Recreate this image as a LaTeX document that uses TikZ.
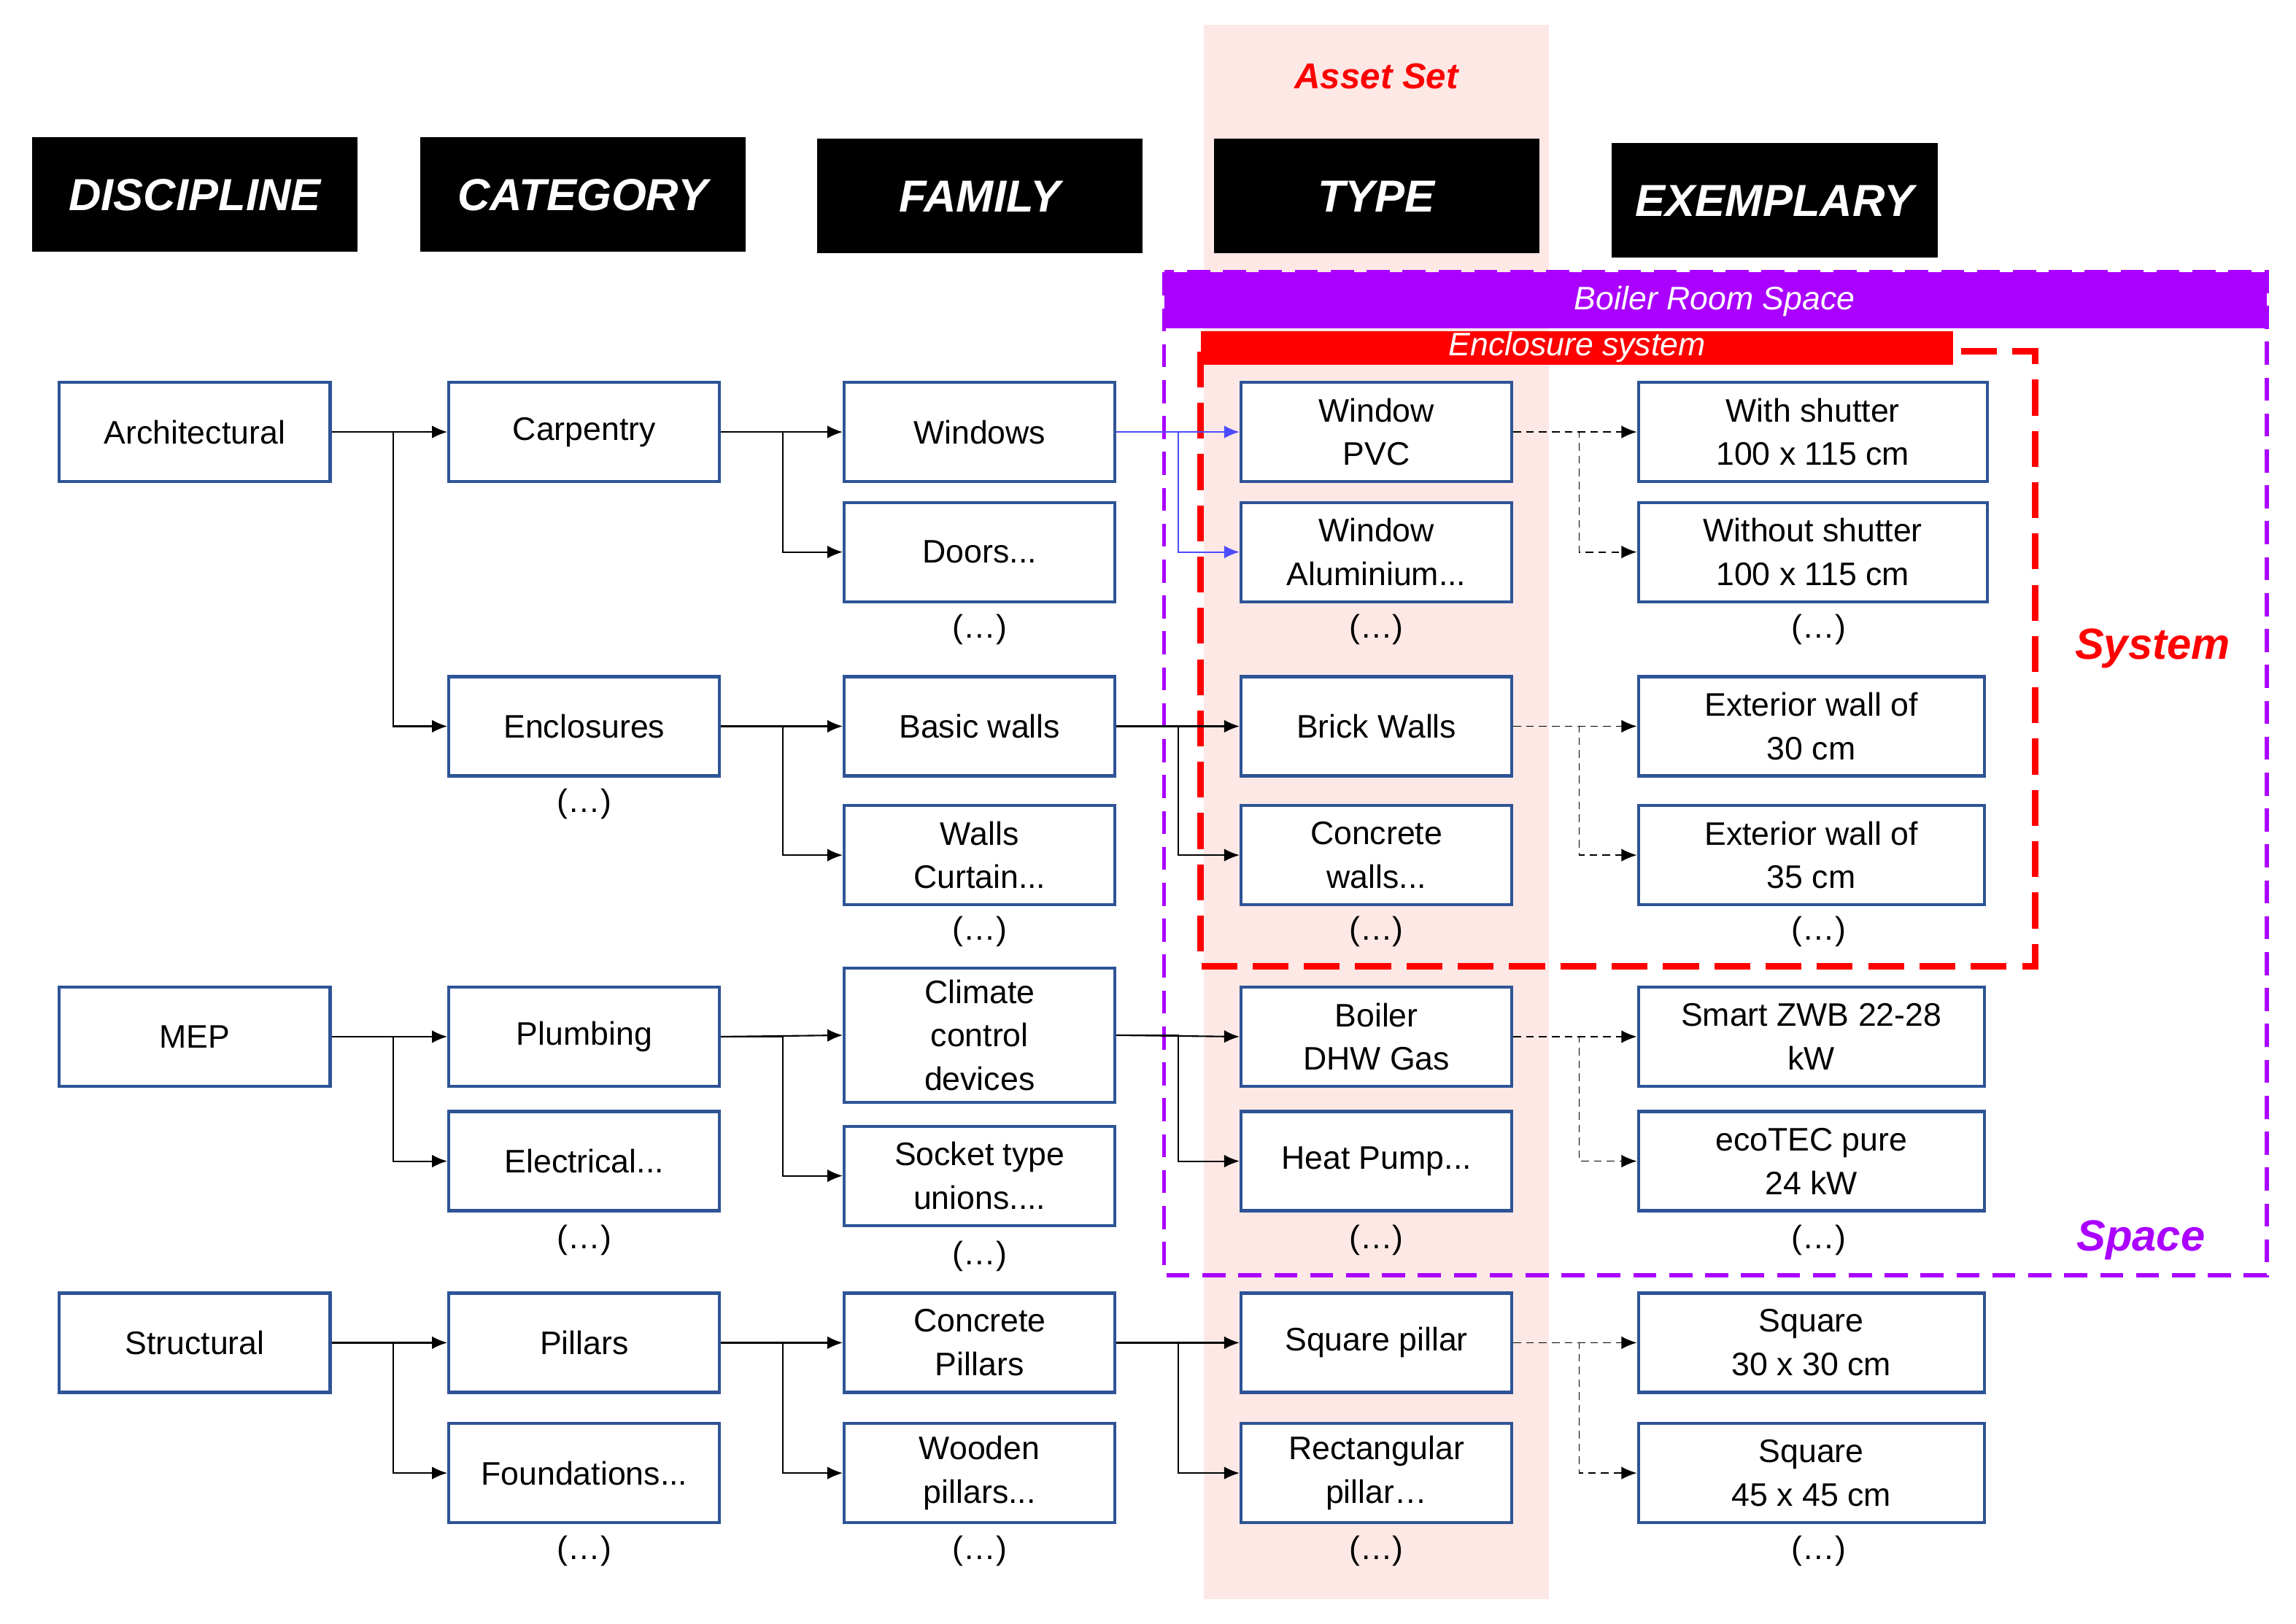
\documentclass[tikz,border=0pt]{standalone}
\usepackage{fontspec}
\setmainfont{Liberation Sans}
\usetikzlibrary{arrows.meta}
\definecolor{boxblue}{RGB}{46,84,150}
\definecolor{bandpink}{RGB}{253,232,230}
\definecolor{spaceviolet}{RGB}{170,0,255}
\definecolor{sysred}{RGB}{255,0,0}
\newcommand*{\boxtext}{\fontsize{12.7}{17}\selectfont}
\tikzset{
  box/.style={draw=boxblue, line width=1.2pt, fill=white, align=center,
    minimum width=3.71cm, minimum height=1.36cm, inner sep=1pt, font=\boxtext},
  wbox/.style={box, minimum width=4.78cm},
  head/.style={fill=black, text=white, minimum width=4.46cm, minimum height=1.57cm,
    font=\fontsize{17.5}{20}\selectfont\bfseries\itshape},
  more/.style={font=\boxtext},
  link/.style={-{Latex[length=6pt,width=5pt]}, line width=0.6pt},
  blink/.style={link, blue!70!white},
  dlink/.style={link, densely dashed, line width=0.5pt},
}
\begin{document}
\begin{tikzpicture}[x=0.02007cm, y=-0.02007cm]
\useasboundingbox (0,0) rectangle (1568,1109);

% asset set band
\fill[bandpink] (822,17) rectangle (1058,1092);
\node[text=sysred, font=\fontsize{14}{16}\selectfont\bfseries\itshape] (asset) at (940,52) {Asset Set};

% headers
\node[head] (hdisc) at (133,133) {DISCIPLINE};
\node[head] (hcat) at (398,133) {CATEGORY};
\node[head] (hfam) at (669,134) {FAMILY};
\node[head] (htype) at (940,134) {TYPE};
\node[head] (hex) at (1212,137) {EXEMPLARY};

% space and system frames
\draw[spaceviolet, line width=1.6pt, dash pattern=on 9pt off 5pt] (795,186) rectangle (1548,871);
\fill[spaceviolet] (795,186) rectangle (1548,224);
\node[text=white, font=\boxtext\itshape] (bspace) at (1171,206) {Boiler Room Space};
\draw[sysred, line width=2.6pt, dash pattern=on 14pt off 6pt] (820,240) rectangle (1390,660);
\fill[sysred] (820,226) rectangle (1334,249);
\node[text=white, font=\boxtext\itshape] (enc) at (1077,237) {Enclosure system};
\node[text=sysred, font=\fontsize{17}{20}\selectfont\bfseries\itshape] (system) at (1470,443) {System};
\node[text=spaceviolet, font=\fontsize{17}{20}\selectfont\bfseries\itshape] (space) at (1462,847) {Space};

% discipline
\node[box] (arch) at (133,295) {Architectural};
\node[box] (mep) at (133,708) {MEP};
\node[box] (struc) at (133,917) {Structural};

% category
\node[box] (carp) at (399,295) {Carpentry};
\node[box] (encl) at (399,496) {Enclosures};
\node[more] at (399,549) {(…)};
\node[box] (plumb) at (399,708) {Plumbing};
\node[box] (elec) at (399,793) {Electrical...};
\node[more] at (399,847) {(…)};
\node[box] (pill) at (399,917) {Pillars};
\node[box] (found) at (399,1006) {Foundations...};
\node[more] at (399,1059) {(…)};

% family
\node[box] (win) at (669,295) {Windows};
\node[box] (door) at (669,377) {Doors...};
\node[more] at (669,430) {(…)};
\node[box] (bwall) at (669,496) {Basic walls};
\node[box] (cwall) at (669,584) {Walls\\Curtain...};
\node[more] at (669,636) {(…)};
\node[box, minimum height=1.84cm] (clim) at (669,707) {Climate\\control\\devices};
\node[box] (sock) at (669,803) {Socket type\\unions....};
\node[more] at (669,858) {(…)};
\node[box] (cpill) at (669,917) {Concrete\\Pillars};
\node[box] (wpill) at (669,1006) {Wooden\\pillars...};
\node[more] at (669,1059) {(…)};

% type
\node[box] (pvc) at (940,295) {Window\\PVC};
\node[box] (alu) at (940,377) {Window\\Aluminium...};
\node[more] at (940,430) {(…)};
\node[box] (brick) at (940,496) {Brick Walls};
\node[box] (conc) at (940,584) {Concrete\\walls...};
\node[more] at (940,636) {(…)};
\node[box] (boil) at (940,708) {Boiler\\DHW Gas};
\node[box] (pump) at (940,793) {Heat Pump...};
\node[more] at (940,847) {(…)};
\node[box] (sqp) at (940,917) {Square pillar};
\node[box] (recp) at (940,1006) {Rectangular\\pillar…};
\node[more] at (940,1059) {(…)};

% exemplary
\node[wbox] (shut) at (1238,295) {With shutter\\100 x 115 cm};
\node[wbox] (noshut) at (1238,377) {Without shutter\\100 x 115 cm};
\node[more] at (1242,430) {(…)};
\node[wbox, minimum width=4.74cm] (ext30) at (1237,496) {Exterior wall of\\30 cm};
\node[wbox, minimum width=4.74cm] (ext35) at (1237,584) {Exterior wall of\\35 cm};
\node[more] at (1242,636) {(…)};
\node[wbox, minimum width=4.74cm] (smart) at (1237,708) {Smart ZWB 22-28\\kW};
\node[wbox, minimum width=4.74cm] (eco) at (1237,793) {ecoTEC pure\\24 kW};
\node[more] at (1242,847) {(…)};
\node[wbox, minimum width=4.74cm] (sq30) at (1237,917) {Square\\30 x 30 cm};
\node[wbox, minimum width=4.74cm] (sq45) at (1237,1006) {Square\\45 x 45 cm};
\node[more] at (1242,1059) {(…)};

% links
\foreach \a/\b/\c in {arch/carp/encl, mep/plumb/elec, struc/pill/found,
    carp/win/door, encl/bwall/cwall, plumb/clim/sock, pill/cpill/wpill,
    bwall/brick/conc, clim/boil/pump, cpill/sqp/recp}{
  \draw[link] (\a.east) -- (\b.west);
  \draw[link] (\a.east) -- ++(42,0) |- (\c.west);
}
\draw[blink] (win.east) -- (pvc.west);
\draw[blink] (win.east) -- ++(42,0) |- (alu.west);
\foreach \a/\b/\c in {pvc/shut/noshut, brick/ext30/ext35, boil/smart/eco, sqp/sq30/sq45}{
  \draw[dlink] (\a.east) -- (\b.west);
  \draw[dlink] (\a.east) -- ++(45,0) |- (\c.west);
}
\end{tikzpicture}
\end{document}
